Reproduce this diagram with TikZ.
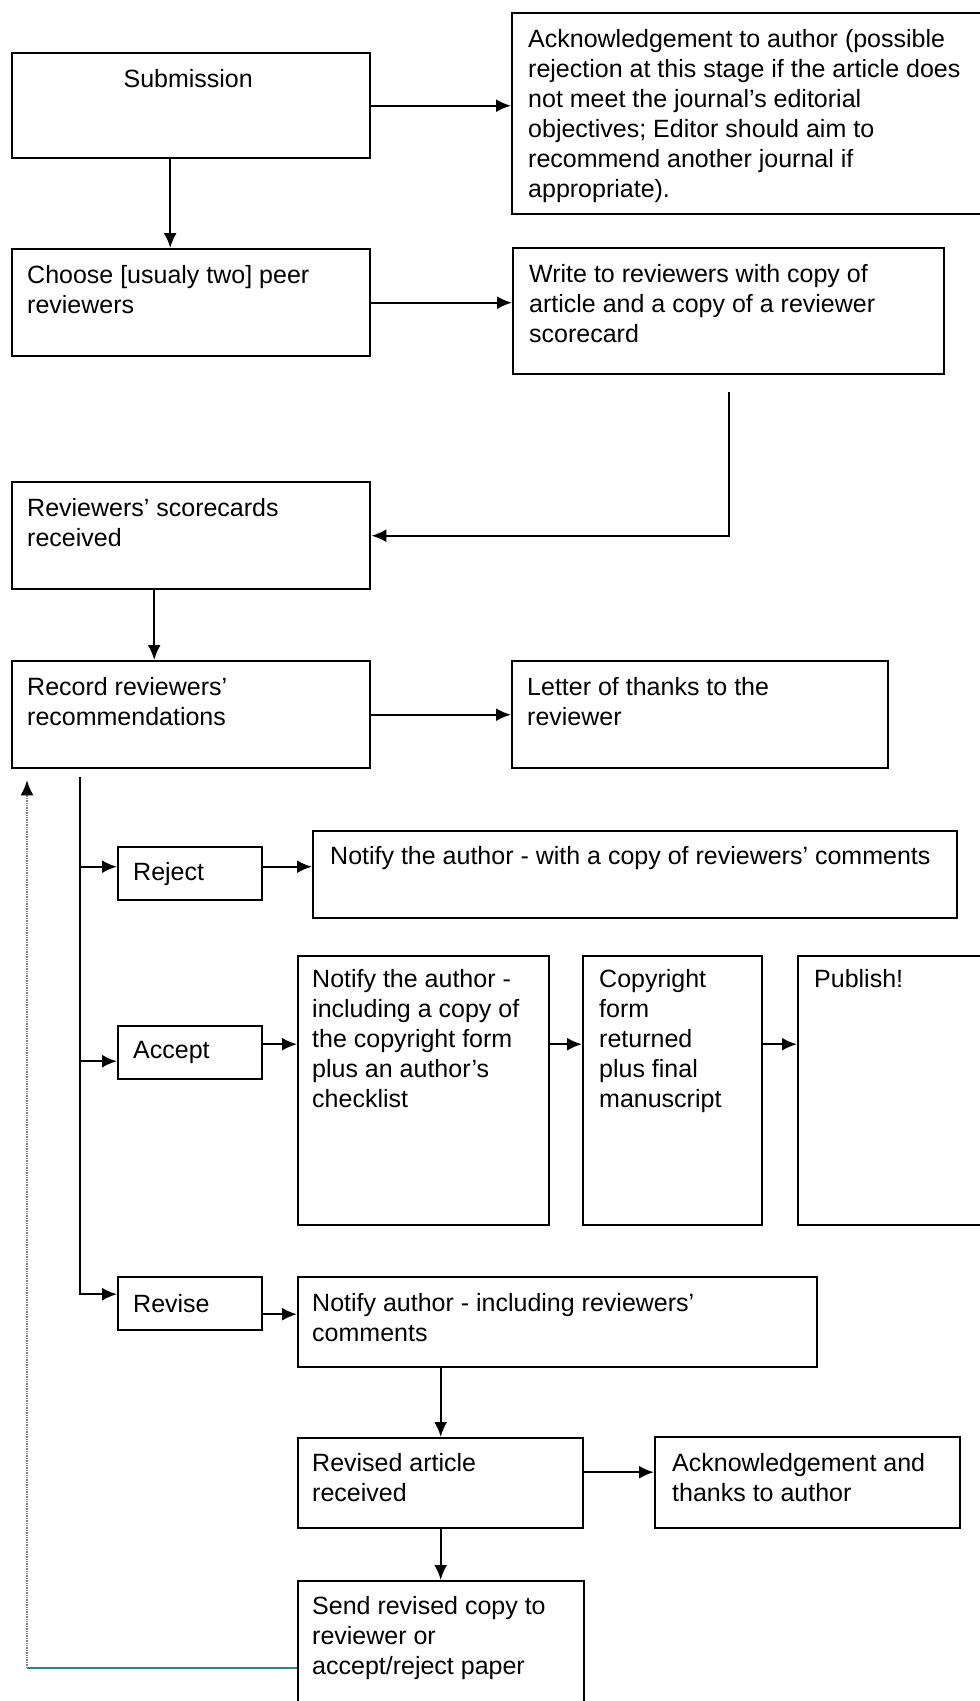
\documentclass[tikz,border=0pt]{standalone}
\usepackage{fontspec}
\setmainfont{Liberation Sans}
\usetikzlibrary{calc,arrows.meta,positioning}

\tikzset{
  box/.style={draw, line width=2.4pt, anchor=north west, inner sep=0pt},
  txt/.style={anchor=north west, inner sep=0pt, align=left,
              font=\fontsize{25}{30}\selectfont},
  arr/.style={line width=2.2pt, -{Latex[length=15pt,width=13pt]}},
  back/.style={line width=1.6pt, color=teal!55!gray},
}

\begin{document}
\begin{tikzpicture}[x=1pt,y=-1pt,color=black]
\path[use as bounding box, fill=white] (0,0) rectangle (980,1701);

% top part
\node[box, minimum width=358pt, minimum height=105pt] (sub) at (11,52) {};
\node[box, minimum width=474pt, minimum height=201pt] (ack) at (511,12) {};
\node[box, minimum width=358pt, minimum height=107pt] (pick) at (11,248) {};
\node[box, minimum width=431pt, minimum height=126pt] (write) at (512,247) {};
\node[box, minimum width=358pt, minimum height=107pt] (cards) at (11,481) {};
\node[box, minimum width=358pt, minimum height=107pt] (rec) at (11,660) {};
\node[box, minimum width=376pt, minimum height=107pt] (thanks) at (511,660) {};

\node[txt, anchor=north] (subt) at ($(sub.north)+(-3,17)$) {Submission};
\node[txt] (ackt) at ($(ack.north west)+(17,17)$)
  {Acknowledgement to author (possible\\rejection at this stage if the article does\\not meet the journal’s editorial\\objectives; Editor should aim to\\recommend another journal if\\appropriate).};
\node[txt] (pickt) at ($(pick.north west)+(16,17)$) {Choose [usualy two] peer\\reviewers};
\node[txt] (writet) at ($(write.north west)+(17,17)$) {Write to reviewers with copy of\\article and a copy of a reviewer\\scorecard};
\node[txt] (cardst) at ($(cards.north west)+(16,17)$) {Reviewers’ scorecards\\received};
\node[txt] (rect) at ($(rec.north west)+(16,17)$) {Record reviewers’\\recommendations};
\node[txt] (thankst) at ($(thanks.north west)+(16,17)$) {Letter of thanks to the\\reviewer};

% the three outcomes
\node[box, minimum width=144pt, minimum height=53pt] (rej) at (117,846) {};
\node[box, minimum width=644pt, minimum height=87pt] (rejn) at (312,830) {};
\node[box, minimum width=144pt, minimum height=53pt] (acc) at (117,1025) {};
\node[box, minimum width=251pt, minimum height=269pt] (accn) at (297,955) {};
\node[box, minimum width=179pt, minimum height=269pt] (copy) at (582,955) {};
\node[box, minimum width=193pt, minimum height=269pt] (pub) at (797,955) {};
\node[box, minimum width=144pt, minimum height=53pt] (rev) at (117,1276) {};
\node[box, minimum width=519pt, minimum height=90pt] (revn) at (297,1276) {};
\node[box, minimum width=285pt, minimum height=90pt] (revd) at (297,1437) {};
\node[box, minimum width=305pt, minimum height=91pt] (ack2) at (654,1436) {};
\node[box, minimum width=286pt, minimum height=130pt] (send) at (297,1580) {};

\node[txt, anchor=west] (rejt) at ($(rej.west)+(16,0)$) {Reject};
\node[txt, anchor=west] (acct) at ($(acc.west)+(16,0)$) {Accept};
\node[txt, anchor=west] (revt) at ($(rev.west)+(16,0)$) {Revise};
\node[txt] (rejnt) at ($(rejn.north west)+(18,16)$) {Notify the author - with a copy of reviewers’ comments};
\node[txt] (accnt) at ($(accn.north west)+(15,14)$)
  {Notify the author -\\including a copy of\\the copyright form\\plus an author’s\\checklist};
\node[txt] (copyt) at ($(copy.north west)+(17,14)$) {Copyright\\form\\returned\\plus final\\manuscript};
\node[txt] (pubt) at ($(pub.north west)+(17,14)$) {Publish!};
\node[txt] (revnt) at ($(revn.north west)+(15,17)$) {Notify author - including reviewers’\\comments};
\node[txt] (revdt) at ($(revd.north west)+(15,16)$) {Revised article\\received};
\node[txt] (ack2t) at ($(ack2.north west)+(18,17)$) {Acknowledgement and\\thanks to author};
\node[txt] (sendt) at ($(send.north west)+(15,16)$) {Send revised copy to\\reviewer or\\accept/reject paper};

% connectors
\draw[arr] (sub.east) -- (sub.east -| ack.west);
\draw[arr] ([xshift=-21pt]sub.south) -- ([xshift=-21pt]sub.south |- pick.north);
\draw[arr] (pick.east) -- (pick.east -| write.west);
\draw[arr] ([yshift=-17pt]write.south) |- (cards.east);
\draw[arr] ([xshift=-37pt]cards.south) -- ([xshift=-37pt]cards.south |- rec.north);
\draw[arr] (rec.east) -- (rec.east -| thanks.west);

\coordinate (top) at ($(rec.south west)+(69,8)$);
\draw[arr] (top) |- ([yshift=9.5pt]rev.west);
\draw[arr] ([yshift=7pt]rej.west -| top) -- ([yshift=7pt]rej.west);
\draw[arr] ([yshift=-8.5pt]acc.west -| top) -- ([yshift=-8.5pt]acc.west);
\draw[arr] ([yshift=7pt]rej.east) -- ([yshift=7pt]rej.east -| rejn.west);

\coordinate (row) at ([yshift=8.5pt]acc.east);
\draw[arr] (row) -- (row -| accn.west);
\draw[arr] (row -| accn.east) -- (row -| copy.west);
\draw[arr] (row -| copy.east) -- (row -| pub.west);

\draw[arr] ([yshift=-10.5pt]rev.east) -- ([yshift=-10.5pt]rev.east -| revn.west);
\draw[arr] (revd.north |- revn.south) -- (revd.north);
\draw[arr] ([yshift=11pt]revd.east) -- ([yshift=11pt]revd.east -| ack2.west);
\draw[arr] (revd.south) -- (revd.south |- send.north);

% loop back to the recommendations
\coordinate (ret) at ($(rec.south west)+(16,11)$);
\coordinate (back) at ($(send.north west)+(0,88)$);
\draw[back] (back) -- (back -| ret);
\draw[line width=1.4pt, gray, densely dotted] (back -| ret) -- ($(ret)+(0,12)$);
\draw[line width=1.4pt, -{Latex[length=15pt,width=13pt]}] ($(ret)+(0,13)$) -- (ret);

\end{tikzpicture}
\end{document}
